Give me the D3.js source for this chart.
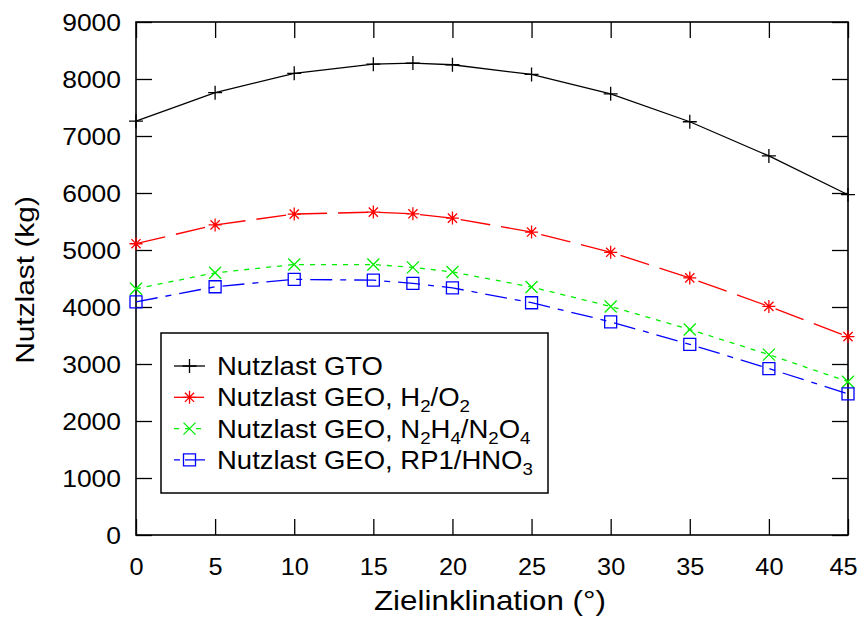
<!DOCTYPE html>
<html>
<head>
<meta charset="utf-8">
<script src="https://cdn.jsdelivr.net/npm/d3@7/dist/d3.min.js"></script>
<style>
  html, body { margin: 0; padding: 0; background: #fff; }
  svg { display: block; font-family: "Liberation Sans", Arial, Helvetica, sans-serif; }
</style>
</head>
<body>
<svg id="chart" width="859" height="619"></svg>
<script>
// Target inclination (degrees)
const inclination = [0, 5, 10, 15, 17.5, 20, 25, 30, 35, 40, 45];
// Payload mass (kg)
const payloadGTO      = [7260, 7760, 8100, 8260, 8280, 8250, 8080, 7740, 7250, 6650, 5970];
const payloadGEO_H2O2 = [5110, 5440, 5630, 5665, 5635, 5560, 5315, 4960, 4510, 4010, 3480];
const payloadGEO_N2H4 = [4320, 4600, 4745, 4745, 4695, 4615, 4350, 4010, 3605, 3165, 2690];
const payloadGEO_RP1  = [4090, 4355, 4485, 4470, 4415, 4335, 4075, 3740, 3345, 2920, 2475];

const xTicks = [0, 5, 10, 15, 20, 25, 30, 35, 40, 45];
const yTicks = [0, 1000, 2000, 3000, 4000, 5000, 6000, 7000, 8000, 9000];

const seriesNames = [
  [["Nutzlast GTO", false]],
  [["Nutzlast GEO, H", false], ["2", true], ["/O", false], ["2", true]],
  [["Nutzlast GEO, N", false], ["2", true], ["H", false], ["4", true], ["/N", false], ["2", true], ["O", false], ["4", true]],
  [["Nutzlast GEO, RP1/HNO", false], ["3", true]]
];

const series = [
  { values: payloadGTO,      color: "#000000", dash: null,       legendDash: null,     marker: "plus" },
  { values: payloadGEO_H2O2, color: "#ff0000", dash: "30,11",    legendDash: "30,11",  marker: "star" },
  { values: payloadGEO_N2H4, color: "#00ee00", dash: "5,6",      legendDash: "5,6",    marker: "cross" },
  { values: payloadGEO_RP1,  color: "#0000ff", dash: "22,8,6,8", legendDash: "6,5,22", marker: "square" }
];

const L = 136, R = 848, T = 22, B = 535;
const SX = 1.15; // horizontal glyph stretch

const svg = d3.select("#chart");
const x = d3.scaleLinear().domain([0, 45]).range([L, R]);
const y = d3.scaleLinear().domain([0, 9000]).range([B, T]);

const markerPaths = {
  plus:  "M-7,0H7M0,-7V7",
  star:  "M-6.5,0H6.5M0,-6.5V6.5M-4.6,-4.6L4.6,4.6M-4.6,4.6L4.6,-4.6",
  cross: "M-6,-6L6,6M-6,6L6,-6",
  square:"M-6,-6H6V6H-6Z"
};

function stretchText(sel, sx) {
  sel.each(function () {
    const t = d3.select(this);
    const tx = +t.attr("x") || 0;
    t.attr("x", tx / sx).attr("transform", `scale(${sx},1)`);
  });
}

// Axes (ticks pointing inward, mirrored on the opposite sides)
const tickLen = 16;
const axB = svg.append("g").attr("transform", `translate(0,${B})`)
  .call(d3.axisBottom(x).tickValues(xTicks).tickSizeInner(-tickLen).tickSizeOuter(0).tickFormat(d3.format("d")));
const axT = svg.append("g").attr("transform", `translate(0,${T})`)
  .call(d3.axisTop(x).tickValues(xTicks).tickSizeInner(-tickLen).tickSizeOuter(0).tickFormat(""));
const axLft = svg.append("g").attr("transform", `translate(${L},0)`)
  .call(d3.axisLeft(y).tickValues(yTicks).tickSizeInner(-tickLen).tickSizeOuter(0).tickFormat(d3.format("d")));
const axRgt = svg.append("g").attr("transform", `translate(${R},0)`)
  .call(d3.axisRight(y).tickValues(yTicks).tickSizeInner(-tickLen).tickSizeOuter(0).tickFormat(""));

[axB, axT, axLft, axRgt].forEach(a => {
  a.select(".domain").remove();
  a.selectAll(".tick line").attr("stroke", "#000").attr("stroke-width", 1.3);
  a.selectAll(".tick text").attr("fill", "#000").attr("font-size", 23)
    .attr("font-family", "Liberation Sans, Arial, sans-serif");
});
axB.selectAll(".tick text").attr("dy", "0.71em").attr("y", 24)
  .attr("x", d => d === 45 ? -5 : 0);
stretchText(axB.selectAll(".tick text"), 1.1);
axLft.selectAll(".tick text").attr("x", -15).attr("dy", "0.36em");
stretchText(axLft.selectAll(".tick text"), SX);

// Plot frame
svg.append("rect").attr("x", L).attr("y", T).attr("width", R - L).attr("height", B - T)
  .attr("fill", "none").attr("stroke", "#000").attr("stroke-width", 1.6);

// Series lines and markers
const line = d3.line().x((d, i) => x(inclination[i])).y(d => y(d));
series.forEach(s => {
  const g = svg.append("g");
  g.append("path").datum(s.values).attr("d", line)
    .attr("fill", "none").attr("stroke", s.color).attr("stroke-width", 1.3)
    .attr("stroke-dasharray", s.dash);
  g.selectAll("path.mk").data(s.values).join("path").attr("class", "mk")
    .attr("transform", (d, i) => `translate(${x(inclination[i])},${y(d)})`)
    .attr("d", markerPaths[s.marker])
    .attr("fill", "none").attr("stroke", s.color).attr("stroke-width", 1.3);
});

// Legend
const leg = svg.append("g");
leg.append("rect").attr("x", 161).attr("y", 333).attr("width", 387).attr("height", 160)
  .attr("fill", "#fff").attr("stroke", "#000").attr("stroke-width", 1.5);
series.forEach((s, i) => {
  const cy = 366 + i * 31.3;
  leg.append("line").attr("x1", 174).attr("x2", 205).attr("y1", cy).attr("y2", cy)
    .attr("stroke", s.color).attr("stroke-width", 1.3).attr("stroke-dasharray", s.legendDash);
  leg.append("path").attr("transform", `translate(189.5,${cy})`).attr("d", markerPaths[s.marker])
    .attr("fill", "none").attr("stroke", s.color).attr("stroke-width", 1.3);
  const t = leg.append("text").attr("transform", `translate(217,${cy + 9}) scale(1.1,1)`)
    .attr("font-size", 25).attr("fill", "#000");
  seriesNames[i].forEach(([txt, sub], k) => {
    const ts = t.append("tspan").text(txt);
    if (sub) ts.attr("font-size", 17).attr("dy", 6);
    else if (k > 0 && seriesNames[i][k - 1][1]) ts.attr("dy", -6);
  });
});

// Axis titles
svg.append("text").attr("transform", `translate(490,610) scale(1.12,1)`)
  .attr("text-anchor", "middle").attr("font-size", 28).attr("fill", "#000")
  .text("Zielinklination (°)");
svg.append("text").attr("transform", `translate(34,280) rotate(-90) scale(1.15,1)`)
  .attr("text-anchor", "middle").attr("font-size", 26).attr("fill", "#000")
  .text("Nutzlast (kg)");
</script>
</body>
</html>
